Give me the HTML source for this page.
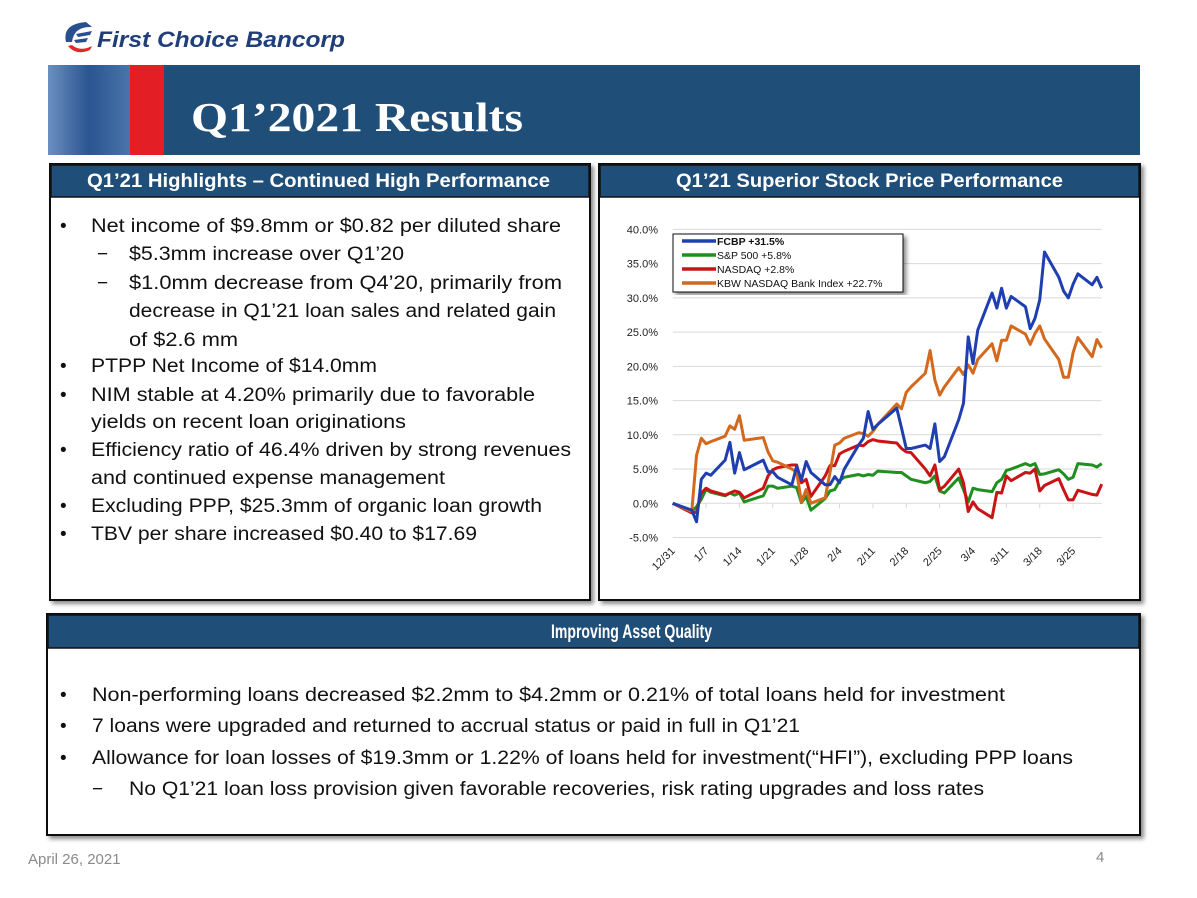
<!DOCTYPE html>
<html><head><meta charset="utf-8"><style>
html,body{margin:0;padding:0;background:#fff;}
svg{display:block;font-family:"Liberation Sans",sans-serif;}
</style></head><body>
<svg width="1197" height="898" viewBox="0 0 1197 898">
<defs>
<linearGradient id="strip" x1="0" x2="1"><stop offset="0" stop-color="#6b8fc0"/><stop offset="0.5" stop-color="#2a5590"/><stop offset="1" stop-color="#4a74aa"/></linearGradient>
<filter id="sh" x="-5%" y="-5%" width="110%" height="110%"><feDropShadow dx="3" dy="3" stdDeviation="2" flood-opacity="0.45"/></filter>
</defs>
<!-- logo -->
<g>
<path d="M66 42 Q62 24 86 22 L92 27 Q74 26 72 42 Z" fill="#2a4f8f"/>
<path d="M72 45 Q80 52 92 46 L90 50 Q76 56 68 46 Z" fill="#e02a2a"/>
<path d="M76 34 L92 31 L90 35 L78 37 Z M74 40 L88 38 L86 42 L76 43 Z" fill="#2a4f8f"/>
<text x="97" y="47" font-size="22" font-weight="bold" font-style="italic" fill="#1f3e7a" textLength="248" lengthAdjust="spacingAndGlyphs">First Choice Bancorp</text>
</g>
<!-- title banner -->
<rect x="48" y="65" width="1092" height="90" fill="#1f4e79"/>
<rect x="48" y="65" width="82" height="90" fill="url(#strip)"/>
<rect x="130" y="65" width="34" height="90" fill="#e31e24"/>
<text x="191" y="131" font-family="Liberation Serif,serif" font-size="41" font-weight="bold" fill="#fff" textLength="332" lengthAdjust="spacingAndGlyphs">Q1’2021 Results</text>

<!-- left panel -->
<g>
<rect x="50" y="164" width="540" height="436" fill="#fff" stroke="#111" stroke-width="2" filter="url(#sh)"/>
<rect x="51" y="165" width="538" height="32" fill="#1f4e79" stroke="#111" stroke-width="1.5"/>
<text x="87" y="187" font-size="19" font-weight="bold" fill="#fff" textLength="463" lengthAdjust="spacingAndGlyphs">Q1’21 Highlights – Continued High Performance</text>
<g font-size="19" fill="#111">
<text x="60" y="232">•</text><text x="91" y="232" textLength="470" lengthAdjust="spacingAndGlyphs">Net income of $9.8mm or $0.82 per diluted share</text>
<text x="97" y="260">−</text><text x="129" y="260" textLength="275" lengthAdjust="spacingAndGlyphs">$5.3mm increase over Q1’20</text>
<text x="97" y="289">−</text><text x="129" y="289" textLength="433" lengthAdjust="spacingAndGlyphs">$1.0mm decrease from Q4’20, primarily from</text>
<text x="129" y="317" textLength="427" lengthAdjust="spacingAndGlyphs">decrease in Q1’21 loan sales and related gain</text>
<text x="129" y="346" textLength="109" lengthAdjust="spacingAndGlyphs">of $2.6 mm</text>
<text x="60" y="372">•</text><text x="91" y="372" textLength="286" lengthAdjust="spacingAndGlyphs">PTPP Net Income of $14.0mm</text>
<text x="60" y="401">•</text><text x="91" y="401" textLength="444" lengthAdjust="spacingAndGlyphs">NIM stable at 4.20% primarily due to favorable</text>
<text x="91" y="428" textLength="315" lengthAdjust="spacingAndGlyphs">yields on recent loan originations</text>
<text x="60" y="456">•</text><text x="91" y="456" textLength="480" lengthAdjust="spacingAndGlyphs">Efficiency ratio of 46.4% driven by strong revenues</text>
<text x="91" y="484" textLength="354" lengthAdjust="spacingAndGlyphs">and continued expense management</text>
<text x="60" y="512">•</text><text x="91" y="512" textLength="451" lengthAdjust="spacingAndGlyphs">Excluding PPP, $25.3mm of organic loan growth</text>
<text x="60" y="540">•</text><text x="91" y="540" textLength="386" lengthAdjust="spacingAndGlyphs">TBV per share increased $0.40 to $17.69</text>
</g>
</g>

<!-- right panel -->
<g>
<rect x="599" y="164" width="541" height="436" fill="#fff" stroke="#111" stroke-width="2" filter="url(#sh)"/>
<rect x="600" y="165" width="539" height="32" fill="#1f4e79" stroke="#111" stroke-width="1.5"/>
<text x="676" y="187" font-size="19" font-weight="bold" fill="#fff" textLength="387" lengthAdjust="spacingAndGlyphs">Q1’21 Superior Stock Price Performance</text>
<g id="chart"></g>
</g>

<!-- bottom panel -->
<g>
<rect x="47" y="614" width="1093" height="221" fill="#fff" stroke="#111" stroke-width="2" filter="url(#sh)"/>
<rect x="48" y="615" width="1091" height="33" fill="#1f4e79" stroke="#111" stroke-width="1.5"/>
<text x="551" y="638" font-size="19" font-weight="bold" fill="#fff" textLength="161" lengthAdjust="spacingAndGlyphs">Improving Asset Quality</text>
<g font-size="19" fill="#111">
<text x="60" y="701">•</text><text x="92" y="701" textLength="913" lengthAdjust="spacingAndGlyphs">Non-performing loans decreased $2.2mm to $4.2mm or 0.21% of total loans held for investment</text>
<text x="60" y="732">•</text><text x="92" y="732" textLength="708" lengthAdjust="spacingAndGlyphs">7 loans were upgraded and returned to accrual status or paid in full in Q1’21</text>
<text x="60" y="764">•</text><text x="92" y="764" textLength="981" lengthAdjust="spacingAndGlyphs">Allowance for loan losses of $19.3mm or 1.22% of loans held for investment(“HFI”), excluding PPP loans</text>
<text x="92" y="795">−</text><text x="129" y="795" textLength="855" lengthAdjust="spacingAndGlyphs">No Q1’21 loan loss provision given favorable recoveries, risk rating upgrades and loss rates</text>
</g>
</g>

<text x="28" y="864" font-size="15" fill="#8a8a8a">April 26, 2021</text>
<text x="1096" y="862" font-size="15" fill="#8a8a8a">4</text>
</svg>
<script>
const days=[0,4,5,6,7,8,11,12,13,14,15,19,20,21,22,25,26,27,28,29,32,33,34,35,36,39,40,41,42,43,47,48,49,50,53,54,55,56,57,60,61,62,63,64,67,68,69,70,71,74,75,76,77,78,81,82,83,84,85,88,89,90];
const fcbp=[0,-1.0,-2.7,3.5,4.4,4.1,6.3,8.9,4.4,7.4,4.9,6.3,4.6,4.6,3.8,2.7,5.4,3.4,6.1,4.5,2.7,2.7,3.9,3.0,5.0,8.5,9.5,13.4,10.8,11.5,13.9,11.0,8.0,8.0,8.5,8.0,11.6,6.1,6.8,12.2,14.6,24.3,20.4,25.3,30.7,28.5,31.4,28.5,30.2,28.7,25.5,27,29.7,36.7,33,31,30,32,33.5,31.9,33,31.4];
const sp500=[0,-1.2,-0.5,0.6,2.0,1.6,1.1,1.5,1.2,1.5,0.2,1.1,2.5,2.5,2.2,2.5,2.3,0.1,1.0,-1.0,0.7,1.8,2.0,3.3,3.8,4.2,4.0,4.2,4.1,4.7,4.5,4.5,4.0,3.5,3.0,3.2,4.0,1.8,1.5,3.7,2.0,0.2,2.2,2.0,1.7,3.0,3.5,4.8,5.0,5.8,5.5,5.8,4.2,4.3,4.9,4.3,3.5,3.8,5.8,5.6,5.3,5.8];
const nasdaq=[0,-1.4,-1.3,1.5,2.2,1.8,1.2,1.5,1.8,1.6,0.8,2.2,4.0,4.9,5.2,5.6,5.6,3.0,3.5,1.0,4.0,5.5,5.5,7.2,7.6,8.5,8.4,9.0,9.3,9.1,8.8,8.0,7.5,7.4,5.0,4.0,5.6,2.0,2.5,5.0,3.0,-1.2,0.2,-0.8,-2.1,1.6,1.5,4.0,3.3,4.5,4.4,5.0,1.8,2.6,3.6,2.0,0.5,0.5,1.9,1.3,1.2,2.8];
const kbw=[0,-1.2,7,9.5,8.7,9.0,9.8,11.3,10.8,12.8,9.2,9.6,7.5,6.2,6.0,5.0,4.6,0.2,2.0,0,0.8,4.5,8.5,8.8,9.5,10.3,10.2,9.8,10.5,11.5,14.5,13.8,16.2,17,19,22.3,18,15.8,17,19.8,18.8,20.2,19,21,23.3,20.8,23.8,23.8,25.9,24.7,23.2,24.8,25.9,24,21,18.4,18.4,22,24.2,21.4,23.9,22.7];
const yTicks=[40,35,30,25,20,15,10,5,0,-5];
const xLabels=["12/31","1/7","1/14","1/21","1/28","2/4","2/11","2/18","2/25","3/4","3/11","3/18","3/25"];
const legendLabels=["FCBP +31.5%","S&P 500 +5.8%","NASDAQ +2.8%","KBW NASDAQ Bank Index +22.7%"];

const NS="http://www.w3.org/2000/svg";
const g=document.getElementById('chart');
const X0=672.7,X1=1101.7,D1=90;
const xs=d=>X0+(X1-X0)*d/D1;
const Y0=503.3,PX=(537.7-229.5)/45;
const ys=v=>Y0-v*PX;
function mk(t,a){const e=document.createElementNS(NS,t);for(const k in a)e.setAttribute(k,a[k]);g.appendChild(e);return e;}
yTicks.forEach(v=>{
  const l=mk('line',{x1:X0,x2:X1,y1:ys(v),y2:ys(v),stroke:'#d9d9d9','stroke-width':1});
  
  
  const t=mk('text',{x:658,y:ys(v)+4,'text-anchor':'end','font-size':11,fill:'#222'});
  t.textContent=v.toFixed(1)+'%';
  
  
});
xLabels.forEach((s,i)=>{
  const x=xs(i*7);
  const tk=mk('line',{x1:x,x2:x,y1:Y0,y2:Y0+5,stroke:'#d9d9d9'});
  
  
  const t=mk('text',{x:x+3,y:ys(-5)+14,'text-anchor':'end','font-size':11,fill:'#222',transform:`rotate(-45 ${x+3} ${ys(-5)+14})`});
  t.textContent=s;
  
  
});
const series=[[fcbp,'#1f3fb0','fcbp-line'],[sp500,'#1f8f1f','sp500-line'],[nasdaq,'#c81414','nasdaq-line'],[kbw,'#d2691e','kbw-line']];
[[sp500,'#1f8f1f','sp500-line'],[nasdaq,'#c81414','nasdaq-line'],[kbw,'#d2691e','kbw-line'],[fcbp,'#1f3fb0','fcbp-line']].forEach(([arr,c,n])=>{
  const p=mk('polyline',{points:arr.map((v,i)=>xs(days[i])+','+ys(v)).join(' '),fill:'none',stroke:c,'stroke-width':3,'stroke-linejoin':'round'});
  
  
});
const lg=mk('rect',{x:673,y:234,width:230,height:58,fill:'#fff',stroke:'#111','stroke-width':1,filter:'url(#sh)'});


series.forEach(([a,c,n],i)=>{
  const y=241+i*14;
  mk('line',{x1:682,x2:716,y1:y,y2:y,stroke:c,'stroke-width':3.5});
  const t=mk('text',{x:717,y:y+4,'font-size':10.5,fill:'#111','font-weight':i==0?'bold':'normal'});
  t.textContent=legendLabels[i];
  
  
});
</script>
</body></html>
